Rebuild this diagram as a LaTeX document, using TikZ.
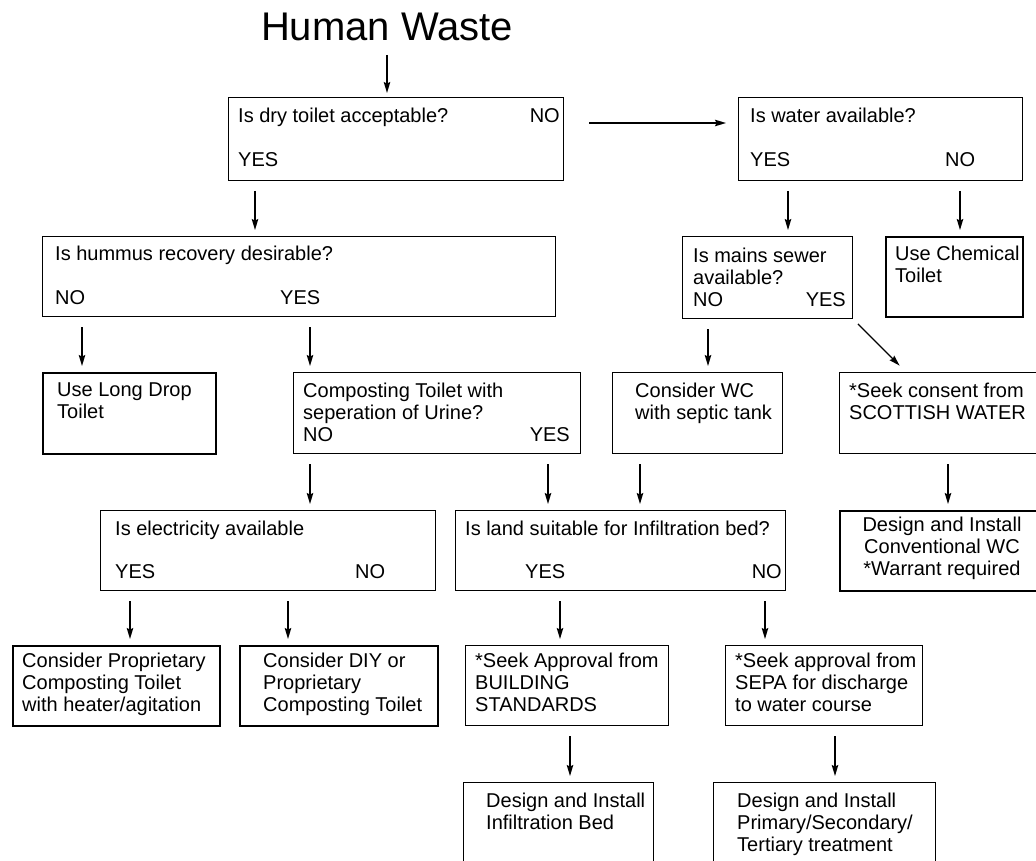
\documentclass[tikz,border=0pt]{standalone}
\usepackage{fontspec}
\setmainfont{Liberation Sans}
\usetikzlibrary{arrows.meta}
\begin{document}
\begin{tikzpicture}[x=1pt,y=-1pt,
  box/.style={draw, line width=1pt, anchor=north west, inner sep=0pt},
  endbox/.style={box, line width=2.2pt},
  txt/.style={anchor=north west, align=left, inner sep=0pt, font=\fontsize{20}{22}\selectfont},
  txtr/.style={txt, anchor=north east},
  txtc/.style={anchor=north, align=center, inner sep=0pt, font=\fontsize{20}{22}\selectfont},
  arr/.style={-{Stealth[length=11pt,width=6.5pt,inset=1.5pt]}, line width=1.3pt, shorten <=10pt, shorten >=6pt}]
\useasboundingbox (0,0) rectangle (1036,861);
\clip (0,0) rectangle (1036,861);

% title
\node[anchor=base, inner sep=0pt, font=\fontsize{40}{46}\selectfont] (title) at (387,41) {Human Waste};

% boxes
\node[box, minimum width=335pt, minimum height=83pt] (b1) at (228,97) {};
\node[box, minimum width=284pt, minimum height=83pt] (b2) at (738,97) {};
\node[box, minimum width=513pt, minimum height=80pt] (b3) at (42,236) {};
\node[box, minimum width=170pt, minimum height=82pt] (b4) at (682,236) {};
\node[endbox, minimum width=137pt, minimum height=80pt] (b5) at (885,236) {};
\node[endbox, minimum width=173pt, minimum height=81pt] (b6) at (42,372) {};
\node[box, minimum width=287pt, minimum height=81pt] (b7) at (293,372) {};
\node[box, minimum width=170pt, minimum height=81pt] (b8) at (612,372) {};
\node[box, minimum width=220pt, minimum height=81pt] (b9) at (839,372) {};
\node[box, minimum width=335pt, minimum height=80pt] (b10) at (100,510) {};
\node[box, minimum width=330pt, minimum height=80pt] (b11) at (455,510) {};
\node[endbox, minimum width=220pt, minimum height=80pt] (b12) at (839,510) {};
\node[endbox, minimum width=207pt, minimum height=80pt] (b13) at (12,645) {};
\node[endbox, minimum width=198pt, minimum height=80pt] (b14) at (239,645) {};
\node[box, minimum width=203pt, minimum height=80pt] (b15) at (465,645) {};
\node[box, minimum width=197pt, minimum height=80pt] (b16) at (725,645) {};
\node[box, minimum width=190pt, minimum height=100pt] (b17) at (463,782) {};
\node[box, minimum width=222pt, minimum height=100pt] (b18) at (713,782) {};

% texts
\node[txt] (t1a) at (238,108) {Is dry toilet acceptable?};
\node[txtr] (t1b) at (560,108) {NO};
\node[txt] (t1c) at (238,152) {YES};
\node[txt] (t2a) at (750,108) {Is water available?};
\node[txt] (t2b) at (750,152) {YES};
\node[txt] (t2c) at (945,152) {NO};
\node[txt] (t3a) at (55,246) {Is hummus recovery desirable?};
\node[txt] (t3b) at (55,290) {NO};
\node[txt] (t3c) at (280,290) {YES};
\node[txt] (t4a) at (693,248) {Is mains sewer\\available?};
\node[txt] (t4b) at (693,292) {NO};
\node[txtr] (t4c) at (846,292) {YES};
\node[txt] (t5) at (895,246) {Use Chemical\\Toilet};
\node[txt] (t6) at (57,383) {Use Long Drop\\Toilet};
\node[txt] (t7a) at (303,383) {Composting Toilet with\\seperation of Urine?};
\node[txt] (t7b) at (303,427) {NO};
\node[txtr] (t7c) at (570,427) {YES};
\node[txt] (t8) at (635,383) {Consider WC\\with septic tank};
\node[txt] (t9) at (849,383) {*Seek consent from\\SCOTTISH WATER};
\node[txt] (t10a) at (115,521) {Is electricity available};
\node[txt] (t10b) at (115,564) {YES};
\node[txt] (t10c) at (355,564) {NO};
\node[txt] (t11a) at (465,521) {Is land suitable for Infiltration bed?};
\node[txt] (t11b) at (525,564) {YES};
\node[txtr] (t11c) at (782,564) {NO};
\node[txtc] (t12) at (942,517) {Design and Install\\Conventional WC\\*Warrant required};
\node[txt] (t13) at (22,653) {Consider Proprietary\\Composting Toilet\\with heater/agitation};
\node[txt] (t14) at (263,653) {Consider DIY or\\Proprietary\\Composting Toilet};
\node[txt] (t15) at (475,653) {*Seek Approval from\\BUILDING\\STANDARDS};
\node[txt] (t16) at (735,653) {*Seek approval from\\SEPA for discharge\\to water course};
\node[txt] (t17) at (486,793) {Design and Install\\Infiltration Bed};
\node[txt] (t18) at (737,793) {Design and Install\\Primary/Secondary/\\Tertiary treatment};

% connectors
\draw[arr, shorten <=14pt, shorten >=4pt] (title.base) -- (title.base |- b1.north);
\draw[arr, shorten <=25pt, shorten >=12pt] ([yshift=-26pt]b1.north east) -- ([yshift=-26pt]b2.north west);
\draw[arr] ([xshift=27pt]b1.south west) -- ([xshift=213pt]b3.north west);
\draw[arr] ([xshift=50pt]b2.south west) -- ([xshift=106pt]b4.north west);
\draw[arr] ([xshift=222pt]b2.south west) -- ([xshift=75pt]b5.north west);
\draw[arr] ([xshift=40pt]b3.south west) -- ([xshift=40pt]b6.north west);
\draw[arr] ([xshift=268pt]b3.south west) -- ([xshift=17pt]b7.north west);
\draw[arr] ([xshift=26pt]b4.south west) -- ([xshift=96pt]b8.north west);
\draw[arr, shorten <=7pt, shorten >=9pt] (b4.south east) -- ([xshift=67pt]b9.north west);
\draw[arr] ([xshift=17pt]b7.south west) -- ([xshift=210pt]b10.north west);
\draw[arr] ([xshift=255pt]b7.south west) -- ([xshift=93pt]b11.north west);
\draw[arr] ([xshift=28pt]b8.south west) -- ([xshift=185pt]b11.north west);
\draw[arr] ([xshift=109pt]b9.south west) -- ([xshift=109pt]b12.north west);
\draw[arr] ([xshift=30pt]b10.south west) -- ([xshift=118pt]b13.north west);
\draw[arr] ([xshift=188pt]b10.south west) -- ([xshift=49pt]b14.north west);
\draw[arr] ([xshift=105pt]b11.south west) -- ([xshift=95pt]b15.north west);
\draw[arr] ([xshift=310pt]b11.south west) -- ([xshift=40pt]b16.north west);
\draw[arr] ([xshift=105pt]b15.south west) -- ([xshift=107pt]b17.north west);
\draw[arr] ([xshift=110pt]b16.south west) -- ([xshift=122pt]b18.north west);
\end{tikzpicture}
\end{document}
